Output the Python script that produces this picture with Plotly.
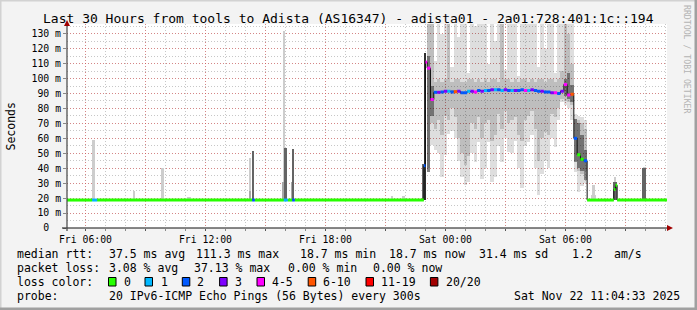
import pandas as pd
import plotly.graph_objects as go

# ---------------- data ----------------
T_START = "2025-11-21 05:04:33"
T_END = "2025-11-22 11:04:33"
TITLE = "Last 30 Hours from tools to Adista (AS16347) - adista01 - 2a01:728:401:1c::194"

LOSS_LABELS = ["0", "1", "2", "3", "4-5", "6-10", "11-19", "20/20"]
LOSS_COLORS = ["#26ff00", "#00b8ff", "#0059ff", "#7e00ff", "#ff00ff", "#ff5500", "#ff0000", "#a10000"]

BASE_RTT = 18.7

# median rtt (ms) during quiet periods, as steps
step_start = ["2025-11-21 05:04:33", "2025-11-21 06:20", "2025-11-21 06:35", "2025-11-21 14:20",
              "2025-11-21 14:28", "2025-11-21 15:55", "2025-11-21 16:07", "2025-11-21 16:20",
              "2025-11-21 16:28", "2025-11-21 22:55", "2025-11-21 23:00",
              "2025-11-22 07:05", "2025-11-22 08:25", "2025-11-22 08:30", "2025-11-22 08:35"]
step_end = ["2025-11-21 06:20", "2025-11-21 06:35", "2025-11-21 14:20", "2025-11-21 14:28",
            "2025-11-21 15:55", "2025-11-21 16:07", "2025-11-21 16:20", "2025-11-21 16:28",
            "2025-11-21 22:55", "2025-11-21 23:00", "2025-11-21 23:05",
            "2025-11-22 08:25", "2025-11-22 08:30", "2025-11-22 08:35", "2025-11-22 11:04:33"]
step_rtt = [18.7, 18.7, 18.7, 18.7, 18.7, 18.7, 18.7, 18.7, 18.7, 41.7, 111,
            18.7, 25.8, 28.6, 18.7]
step_loss = [0, 1, 0, 2, 0, 1, 0, 2, 0, 2, 4, 0, 0, 0, 0]

# congested period: 10-minute columns starting Fri 23:05
cong_start = "2025-11-21 23:05"
cong_median = [107, 86, 90.8, 90.8, 91, 91.5, 91.5, 91, 91.2, 91.5, 90.5, 90.5, 91.5, 91.5, 91, 92,
               91.5, 92, 92, 92.5, 92.5, 92.5, 92, 92.5, 92, 92, 92, 92, 92.5, 92, 92, 92.5,
               92, 91.5, 91.5, 91, 91, 90.5, 90.5, 90, 91.5, 96, 89, 89.5, 60, 49, 46, 45]
cong_loss = [4, 4, 2, 3, 2, 3, 1, 2, 5, 3, 2, 2, 1, 3, 4, 2,
             3, 1, 2, 3, 1, 2, 1, 3, 2, 1, 3, 2, 2, 4, 1, 3,
             2, 2, 3, 2, 2, 3, 4, 2, 3, 4, 4, 5, 2, 0, 0, 2]
cong_light_lo = [37.5, 55.5, 52, 50, 34, 49, 63, 65, 60, 45, 34, 29, 31, 50, 44, 57.5,
                 33, 40, 57.5, 31, 34, 55, 44, 60, 51, 50, 58, 40, 26.5, 55, 57.5, 62,
                 40, 22, 36, 45, 40, 60, 54, 72, 84, 82, 80, 72, 37.5, 24, 28, 30]
cong_light_hi = [150, 150, 112, 150, 130, 150, 150, 108, 150, 128, 150, 150, 104, 150, 135, 150,
                 150, 150, 110, 150, 125, 150, 150, 106, 150, 150, 150, 102, 150, 150, 150, 150,
                 150, 108, 150, 120, 150, 150, 104, 150, 150, 150, 150, 150, 76, 75, 74, 72]
cong_mid_lo = [40, 70, 66, 72, 62, 75, 72, 80, 74, 60, 50, 42, 48, 70, 66, 74,
               60, 70, 72, 58, 62, 76, 66, 78, 70, 72, 74, 62, 58, 72, 75, 78,
               66, 45, 60, 64, 62, 76, 74, 80, 86, 85, 84, 82, 45, 38, 36, 38]
cong_mid_hi = [150, 150, 98, 100, 98, 100, 140, 98, 100, 100, 98, 98, 100, 100, 98, 100,
               98, 100, 98, 100, 100, 98, 140, 100, 100, 98, 100, 98, 100, 100, 98, 100,
               98, 100, 100, 98, 100, 100, 98, 100, 105, 150, 130, 110, 73, 72, 70, 66]
cong_dark_lo = [37.5, 75] + [None] * 39 + [88, 86, 84, 44, 40, 38, 32]
cong_dark_hi = [115, 95] + [None] * 39 + [100, 104, 96, 73, 70, 62, 52]

# isolated smoke spikes (5-minute columns), bottom at the base rtt
spike_light_t = ["2025-11-21 06:25", "2025-11-21 08:26", "2025-11-21 09:52", "2025-11-21 11:10",
                 "2025-11-21 11:15", "2025-11-21 14:15", "2025-11-21 15:57", "2025-11-21 21:20",
                 "2025-11-21 21:55", "2025-11-22 07:20", "2025-11-22 07:25", "2025-11-22 07:30",
                 "2025-11-22 08:30", "2025-11-22 09:58"]
spike_light_hi = [59, 25, 40, 21, 21, 47, 132, 21.5, 21.5, 22, 28.6, 22, 34, 41]
spike_mid_t = ["2025-11-21 14:15", "2025-11-21 15:55", "2025-11-21 16:00", "2025-11-21 16:20"]
spike_mid_hi = [25, 31, 31, 31]
spike_dark_t = ["2025-11-21 14:23", "2025-11-21 16:01", "2025-11-21 16:24", "2025-11-21 22:55",
                "2025-11-22 08:28", "2025-11-22 08:33", "2025-11-22 09:55", "2025-11-22 10:00"]
spike_dark_hi = [51.5, 53.5, 53, 43, 31, 31, 40, 40]
spike_black_t = ["2025-11-21 23:00"]
spike_black_hi = [117]

Y_TICKS = [0, 10, 20, 30, 40, 50, 60, 70, 80, 90, 100, 110, 120, 130]
Y_TICK_TEXT = ["0\u00a0\u00a0"] + [f"{v} m" for v in Y_TICKS[1:]]
X_TICKS = ["2025-11-21 06:00", "2025-11-21 09:00", "2025-11-21 12:00", "2025-11-21 15:00",
           "2025-11-21 18:00", "2025-11-21 21:00", "2025-11-22 00:00", "2025-11-22 03:00",
           "2025-11-22 06:00", "2025-11-22 09:00"]
X_TICK_TEXT = ["Fri 06:00", "", "Fri 12:00", "", "Fri 18:00", "", "Sat 00:00", "", "Sat 06:00", ""]

RTT_STATS = ["37.5 ms avg", "111.3 ms max", "18.7 ms min", "18.7 ms now", "31.4 ms sd", "1.2", "am/s"]
LOSS_STATS = ["3.08 % avg", "37.13 % max", "0.00 % min", "0.00 % now"]
PROBE_TEXT = "20 IPv6-ICMP Echo Pings (56 Bytes) every 300s"
STAMP = "Sat Nov 22 11:04:33 2025"

# ---------------- geometry helpers ----------------
L, R, T, B = 67, 30, 24, 82
W, H = 697, 310
PW, PH = W - L - R, H - T - B


def xp(px):
    return (px - L) / PW


def yp(py):
    return (H - B - py) / PH


MONO = "DejaVu Sans Mono"
fig = go.Figure()

ten = pd.Timedelta(minutes=10)
five = pd.Timedelta(minutes=5)
cong_t = pd.date_range(cong_start, periods=len(cong_median), freq="10min")
cong_c = cong_t + five


def add_bars(x, lo, hi, width_ms, color):
    xs, bs, hs = [], [], []
    for a, l, h in zip(x, lo, hi):
        if l is None or h is None:
            continue
        xs.append(a)
        bs.append(l)
        hs.append(h - l)
    fig.add_trace(go.Bar(x=xs, y=hs, base=bs, width=width_ms,
                         marker=dict(color=color, line=dict(width=0)),
                         hoverinfo="skip", showlegend=False))


# congested smoke (semi-transparent so the grid shows through)
add_bars(cong_c, cong_light_lo, cong_light_hi, 600000, "rgba(0,0,0,0.13)")
add_bars(cong_c, cong_mid_lo, cong_mid_hi, 600000, "rgba(0,0,0,0.14)")
add_bars(cong_c, cong_dark_lo, cong_dark_hi, 600000, "rgba(0,0,0,0.40)")

# isolated spikes
sp = lambda ts: [pd.Timestamp(t) for t in ts]
add_bars(sp(spike_light_t), [BASE_RTT] * len(spike_light_t), spike_light_hi, 300000, "#cdcdcd")
add_bars(sp(spike_mid_t), [BASE_RTT] * len(spike_mid_t), spike_mid_hi, 300000, "#a8a8a8")
add_bars(sp(spike_dark_t), [BASE_RTT] * len(spike_dark_t), spike_dark_hi, 300000, "#646464")
add_bars(sp(spike_black_t), [BASE_RTT] * len(spike_black_t), spike_black_hi, 300000, "#2e2e2e")

# median steps
steps = [(pd.Timestamp(s), pd.Timestamp(e), v, l)
         for s, e, v, l in zip(step_start, step_end, step_rtt, step_loss)]
steps += [(t, t + ten, v, l) for t, v, l in zip(cong_t, cong_median, cong_loss)]
steps.sort(key=lambda r: r[0])

cx, cy = [], []
for s, e, v, l in steps:
    cx += [s, e]
    cy += [v, v]
fig.add_trace(go.Scatter(x=cx, y=cy, mode="lines", line=dict(color="#111111", width=1),
                         hoverinfo="skip", showlegend=False))

for k, col in enumerate(LOSS_COLORS):
    xs, ys = [], []
    for s, e, v, l in steps:
        if l == k:
            xs += [s, e, None]
            ys += [v, v, None]
    if xs:
        fig.add_trace(go.Scatter(x=xs, y=ys, mode="lines", line=dict(color=col, width=3),
                                 hoverinfo="skip", showlegend=False))

# ---------------- annotations ----------------
ann = []


def text(t, x, y, size=11.5, anchor="left", color="black", angle=0, family=MONO):
    ann.append(dict(text=t, x=xp(x), y=yp(y), xref="paper", yref="paper", xanchor=anchor,
                    yanchor="middle", showarrow=False, borderpad=0, textangle=angle,
                    font=dict(family=family, size=size, color=color)))


text(TITLE, 348, 18.5, size=13, anchor="center")
text("Seconds", 10.5, 127, angle=-90, anchor="center")
text("RRDTOOL / TOBI OETIKER", 687, 59, size=8.2, anchor="center", color="#b4b4b4", angle=90)

text("median rtt:", 16, 254)
for s, x in zip(RTT_STATS, [107.6, 195.1, 298.5, 388.4, 477.5, 571, 613]):
    text(s, x, 254)
text("packet loss:", 16, 268)
for s, x in zip(LOSS_STATS, [107.6, 192.9, 286.7, 372.4]):
    text(s, x, 268)
text("loss color:", 16, 282)
box_x = [108.5, 145, 182.3, 219.6, 257, 308.2, 366, 430.4]
lab_x = [123.1, 160.4, 196.4, 233.8, 271.1, 322.2, 380, 444.9]
shapes = []
for lab, col, bx, lx in zip(LOSS_LABELS, LOSS_COLORS, box_x, lab_x):
    shapes.append(dict(type="rect", xref="paper", yref="paper", x0=xp(bx), x1=xp(bx + 7.5),
                       y0=yp(286), y1=yp(277.5), fillcolor=col, line=dict(color="black", width=1)))
    text(lab, lx, 282)
text("probe:", 16, 296.3)
text(PROBE_TEXT, 107.6, 296.3)
text(STAMP, 681, 296.3, anchor="right")

# frame
shapes += [
    dict(type="rect", xref="paper", yref="paper", x0=xp(0), x1=xp(697), y0=yp(0), y1=yp(1.5),
         fillcolor="#d2d2d2", line=dict(width=0)),
    dict(type="rect", xref="paper", yref="paper", x0=xp(0), x1=xp(1.5), y0=yp(0), y1=yp(310),
         fillcolor="#d2d2d2", line=dict(width=0)),
    dict(type="rect", xref="paper", yref="paper", x0=xp(694.5), x1=xp(697), y0=yp(0), y1=yp(310),
         fillcolor="#a0a0a0", line=dict(width=0)),
    dict(type="rect", xref="paper", yref="paper", x0=xp(0), x1=xp(697), y0=yp(307.5), y1=yp(310),
         fillcolor="#a0a0a0", line=dict(width=0)),
    # axes
    dict(type="line", xref="paper", yref="paper", x0=xp(62), x1=xp(668), y0=yp(228), y1=yp(228),
         line=dict(color="#111111", width=1.2)),
    dict(type="line", xref="paper", yref="paper", x0=xp(67), x1=xp(67), y0=yp(231), y1=yp(24),
         line=dict(color="#444444", width=1.2)),
    dict(type="path", xref="paper", yref="paper",
         path=f"M {xp(667)} {yp(225)} L {xp(673)} {yp(228)} L {xp(667)} {yp(231)} Z",
         fillcolor="#a00000", line=dict(width=0)),
    dict(type="path", xref="paper", yref="paper",
         path=f"M {xp(64)} {yp(26)} L {xp(67)} {yp(20)} L {xp(70)} {yp(26)} Z",
         fillcolor="#a00000", line=dict(width=0)),
]

MGRID = "rgba(222,80,80,0.55)"
GRID = "rgba(143,143,143,0.5)"
fig.update_layout(
    width=W, height=H, margin=dict(l=L, r=R, t=T, b=B),
    paper_bgcolor="#f3f3f3", plot_bgcolor="white",
    barmode="overlay", bargap=0, showlegend=False,
    annotations=ann, shapes=shapes,
    xaxis=dict(type="date", range=[T_START, T_END], tickmode="array", tickvals=X_TICKS,
               ticktext=X_TICK_TEXT, showgrid=True, gridcolor=MGRID, gridwidth=1,
               griddash="1px,2px", ticks="outside", ticklen=2, tickcolor="#555555",
               tickfont=dict(family=MONO, size=9.8, color="black"), zeroline=False,
               showline=False, fixedrange=True,
               minor=dict(tickmode="linear", tick0="2025-11-21 06:00", dtick=3600000,
                          showgrid=True, gridcolor=GRID, griddash="1px,2px",
                          ticks="outside", ticklen=2, tickcolor="#888888")),
    yaxis=dict(range=[0, 136.5], tickmode="array", tickvals=Y_TICKS, ticktext=Y_TICK_TEXT,
               showgrid=True, gridcolor=MGRID, gridwidth=1, griddash="1px,2px",
               ticks="outside", ticklen=3, tickcolor="#888888",
               tickfont=dict(family=MONO, size=9.8, color="black"), zeroline=False,
               showline=False, fixedrange=True,
               minor=dict(tickmode="linear", tick0=0, dtick=5, showgrid=True,
                          gridcolor=GRID, griddash="1px,2px")),
)

fig.write_html("out.html")
